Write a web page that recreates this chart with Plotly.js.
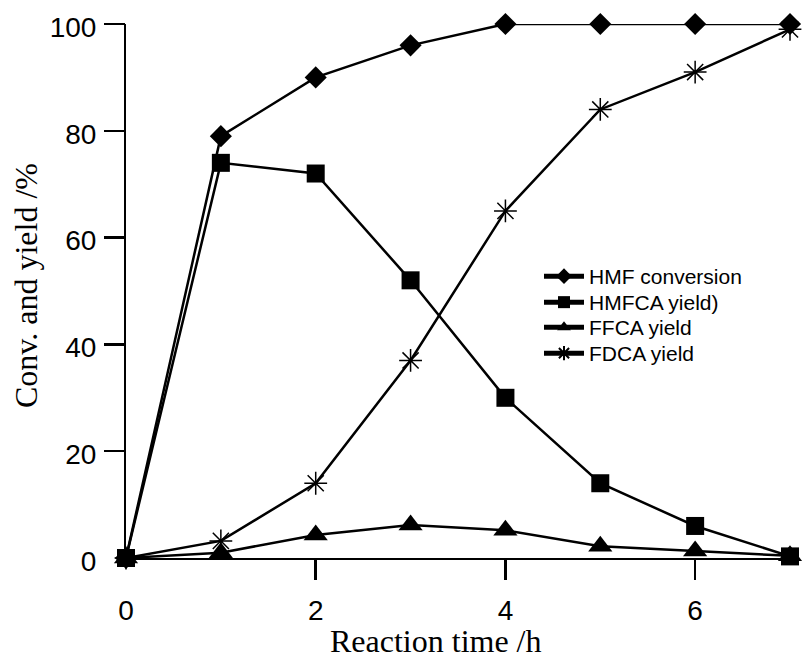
<!DOCTYPE html>
<html>
<head>
<meta charset="utf-8">
<script src="https://cdn.plot.ly/plotly-3.0.1.min.js"></script>
<style>html,body{margin:0;padding:0;background:#fff;}#chart{width:806px;height:660px;}</style>
</head>
<body>
<div id="chart"></div>
<script>
const time = [0, 1, 2, 3, 4, 5, 6, 7];
const hmfConversion = [0, 79, 90, 96, 100, 100, 100, 100];
const hmfcaYield = [0, 74, 72, 52, 30, 14, 6, 0.3];
const ffcaYield = [0, 1, 4.3, 6.2, 5.2, 2.2, 1.3, 0.4];
const fdcaYield = [0, 3.2, 14, 37, 65, 84, 91, 99];
const seriesNames = ['HMF conversion', 'HMFCA yield)', 'FFCA yield', 'FDCA yield'];
const xTitle = 'Reaction time /h';
const yTitle = 'Conv. and yield /%';
const xLabelVals = [0, 2, 4, 6];
const xTickMarks = [2, 4, 6];
const yLabelVals = [0, 20, 40, 60, 80, 100];
const yTickMarks = [20, 40, 60, 80, 100];

// plot area in pixels: left 126, right 790, top 24, bottom 558
const PL = 126, PR = 790, PT = 24, PB = 558;
const px2x = p => (p - PL) / (PR - PL);
const px2y = p => (PB - p) / (PB - PT);

const lineStyle = {color: '#000', width: 2.5};
const legendIds = ['legend', 'legend2', 'legend3', 'legend4'];
const legendRowTops = [256, 282, 307, 333];
function mk(y, i, symbol, size) {
  return {
    x: time, y: y, name: seriesNames[i], type: 'scatter', mode: 'lines+markers',
    line: lineStyle, cliponaxis: false, legend: legendIds[i],
    marker: {symbol: symbol, size: size, color: '#000', line: {color: '#000', width: symbol.indexOf('open') >= 0 ? 1.5 : 0}}
  };
}
const traces = [
  mk(hmfConversion, 0, 'diamond', 17),
  mk(hmfcaYield, 1, 'square', 18),
  mk(ffcaYield, 2, 'triangle-up', 21),
  mk(fdcaYield, 3, 'asterisk-open', 19),
  {x: [null], y: [null], xaxis: 'x2', yaxis: 'y2', showlegend: false, hoverinfo: 'skip', type: 'scatter', mode: 'markers'}
];

const tickFont = {family: 'Liberation Sans, Arial, sans-serif', size: 28, color: '#000'};
const titleFont = {family: 'Liberation Serif, Times New Roman, serif', size: 32, color: '#000'};
const legendFont = {family: 'Liberation Sans, Arial, sans-serif', size: 21, color: '#000'};

const layout = {
  width: 806, height: 660,
  margin: {l: PL, r: 806 - PR, t: PT, b: 660 - PB},
  paper_bgcolor: '#fff', plot_bgcolor: '#fff',
  showlegend: true,
  xaxis: {
    range: [0, 7], showline: true, linecolor: '#000', linewidth: 2,
    ticks: '', tickvals: xLabelVals, tickfont: tickFont, ticklabelstandoff: 26,
    showgrid: false, zeroline: false, automargin: false
  },
  yaxis: {
    range: [0, 100], showline: true, linecolor: '#000', linewidth: 2,
    ticks: '', tickvals: yLabelVals, tickfont: tickFont, ticklabelstandoff: 22, ticklabelshift: 3,
    showgrid: false, zeroline: false, automargin: false
  },
  xaxis2: {
    overlaying: 'x', anchor: 'y', side: 'bottom', range: [0, 7],
    tickvals: xTickMarks, ticks: 'outside', ticklen: 21, tickwidth: 2.5, tickcolor: '#000',
    showticklabels: false, showgrid: false, zeroline: false, showline: false
  },
  yaxis2: {
    overlaying: 'y', anchor: 'x', side: 'left', range: [0, 100],
    tickvals: yTickMarks, ticks: 'outside', ticklen: 21, tickwidth: 2.5, tickcolor: '#000',
    showticklabels: false, showgrid: false, zeroline: false, showline: false
  },
  annotations: [
    {text: xTitle, xref: 'paper', yref: 'paper', x: px2x(436), y: px2y(641), xanchor: 'center', yanchor: 'middle',
     showarrow: false, font: titleFont},
    {text: yTitle, xref: 'paper', yref: 'paper', x: px2x(26), y: px2y(285), xanchor: 'center', yanchor: 'middle',
     textangle: -90, showarrow: false, font: titleFont}
  ]
};
legendIds.forEach(function(id, i) {
  layout[id] = {
    x: px2x(539), y: px2y(legendRowTops[i]), xanchor: 'left', yanchor: 'top',
    font: legendFont, bgcolor: 'rgba(0,0,0,0)', itemsizing: 'constant', itemwidth: 40
  };
});

Plotly.newPlot('chart', traces, layout, {displayModeBar: false, staticPlot: true});
</script>
</body>
</html>
